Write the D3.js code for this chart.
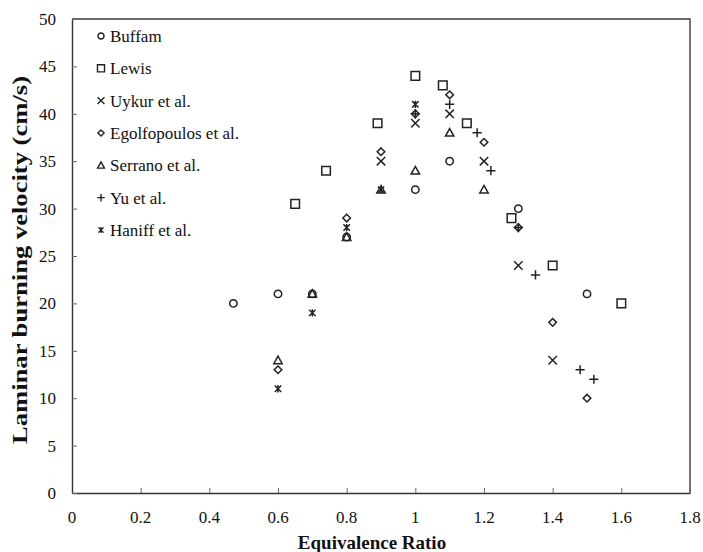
<!DOCTYPE html>
<html>
<head>
<meta charset="utf-8">
<script src="https://cdn.jsdelivr.net/npm/d3@7"></script>
<style>
  html, body { margin: 0; padding: 0; background: #fff; }
  svg { display: block; }
</style>
</head>
<body>
<svg id="chart" width="703" height="552"></svg>
<script>
// Laminar burning velocity (cm/s) against equivalence ratio, per source
const seriesNames = ["Buffam", "Lewis", "Uykur et al.", "Egolfopoulos et al.",
                     "Serrano et al.", "Yu et al.", "Haniff et al."];

const buffamPhi = [0.47, 0.6, 0.7, 0.8, 1.0, 1.1, 1.3, 1.5];
const buffamSu  = [20, 21, 21, 27, 32, 35, 30, 21];

const lewisPhi = [0.65, 0.74, 0.89, 1.0, 1.08, 1.15, 1.28, 1.4, 1.6];
const lewisSu  = [30.5, 34, 39, 44, 43, 39, 29, 24, 20];

const uykurPhi = [0.9, 1.0, 1.1, 1.2, 1.3, 1.4];
const uykurSu  = [35, 39, 40, 35, 24, 14];

const egolfPhi = [0.6, 0.8, 0.9, 1.0, 1.1, 1.2, 1.3, 1.4, 1.5];
const egolfSu  = [13, 29, 36, 40, 42, 37, 28, 18, 10];

const serranoPhi = [0.6, 0.7, 0.8, 0.9, 1.0, 1.1, 1.2];
const serranoSu  = [14, 21, 27, 32, 34, 38, 32];

const yuPhi = [1.0, 1.1, 1.18, 1.22, 1.3, 1.35, 1.48, 1.52];
const yuSu  = [40, 41, 38, 34, 28, 23, 13, 12];

const haniffPhi = [0.6, 0.7, 0.8, 0.9, 1.0];
const haniffSu  = [11, 19, 28, 32, 41];

const xTicks = [0, 0.2, 0.4, 0.6, 0.8, 1, 1.2, 1.4, 1.6, 1.8];
const yTicks = [0, 5, 10, 15, 20, 25, 30, 35, 40, 45, 50];

const serif = "Liberation Serif";

// marker shapes, drawn as open outlines
const markerPaths = {
  circle: r => `M${r},0A${r},${r} 0 1,1 ${-r},0A${r},${r} 0 1,1 ${r},0Z`,
  square: r => `M${-r},${-r}H${r}V${r}H${-r}Z`,
  cross: r => `M${-r},${-r}L${r},${r}M${-r},${r}L${r},${-r}`,
  diamond: r => `M0,${-r}L${r},0L0,${r}L${-r},0Z`,
  triangle: r => `M0,${-r}L${r},${r * 0.8}L${-r},${r * 0.8}Z`,
  plus: r => `M${-r},0H${r}M0,${-r}V${r}`,
  star: r => `M${-r},${-r}L${r},${r}M${-r},${r}L${r},${-r}M0,${-r * 1.15}V${r * 1.15}`
};

const series = [
  { name: seriesNames[0], phi: buffamPhi,  su: buffamSu,  shape: "circle",   r: 3.7 },
  { name: seriesNames[1], phi: lewisPhi,   su: lewisSu,   shape: "square",   r: 4.3 },
  { name: seriesNames[2], phi: uykurPhi,   su: uykurSu,   shape: "cross",    r: 4.2 },
  { name: seriesNames[3], phi: egolfPhi,   su: egolfSu,   shape: "diamond",  r: 3.8 },
  { name: seriesNames[4], phi: serranoPhi, su: serranoSu, shape: "triangle", r: 4.2 },
  { name: seriesNames[5], phi: yuPhi,      su: yuSu,      shape: "plus",     r: 4.6 },
  { name: seriesNames[6], phi: haniffPhi,  su: haniffSu,  shape: "star",     r: 3.2 }
];

const svg = d3.select("#chart");
const plot = { left: 72, right: 690, top: 19, bottom: 493 };

const x = d3.scaleLinear().domain([0, 1.8]).range([plot.left, plot.right]);
const y = d3.scaleLinear().domain([0, 50]).range([plot.bottom, plot.top]);

const ink = "#222";

// frame: top and right edges of the plot box
svg.append("path")
  .attr("d", `M${plot.left},${plot.top}H${plot.right}V${plot.bottom}`)
  .attr("fill", "none").attr("stroke", "#3a3a3a").attr("stroke-width", 1.4);

// axes with inward ticks; labels are drawn separately below
svg.append("g")
  .attr("class", "x-axis")
  .attr("transform", `translate(0,${plot.bottom})`)
  .call(d3.axisBottom(x).tickValues(xTicks).tickSizeInner(-5).tickSizeOuter(0).tickFormat(""));

svg.append("g")
  .attr("class", "y-axis")
  .attr("transform", `translate(${plot.left},0)`)
  .call(d3.axisLeft(y).tickValues(yTicks).tickSizeInner(-5).tickSizeOuter(0).tickFormat(""));

svg.selectAll(".x-axis .domain, .y-axis .domain").attr("stroke", "#333").attr("stroke-width", 1.4);
svg.selectAll(".x-axis .tick line, .y-axis .tick line").attr("stroke", "#666").attr("stroke-width", 1);

// tick labels
const fmt = d3.format("~g");
svg.append("g").selectAll("text")
  .data(xTicks)
  .join("text")
  .attr("x", d => x(d)).attr("y", plot.bottom + 30)
  .attr("text-anchor", "middle")
  .attr("font-family", serif).attr("font-size", 17).attr("fill", "#111")
  .text(d => fmt(d));

svg.append("g").selectAll("text")
  .data(yTicks)
  .join("text")
  .attr("x", plot.left - 16).attr("y", d => y(d)).attr("dy", "0.35em")
  .attr("text-anchor", "end")
  .attr("font-family", serif).attr("font-size", 17).attr("fill", "#111")
  .text(d => d);

// axis titles
svg.append("text")
  .attr("x", 372).attr("y", 549)
  .attr("text-anchor", "middle")
  .attr("font-family", serif).attr("font-size", 19).attr("font-weight", "bold")
  .attr("fill", "#111")
  .text("Equivalence Ratio");

svg.append("text")
  .attr("transform", `translate(27,260) rotate(-90)`)
  .attr("text-anchor", "middle")
  .attr("font-family", serif).attr("font-size", 20).attr("font-weight", "bold")
  .attr("textLength", 368).attr("lengthAdjust", "spacingAndGlyphs")
  .attr("fill", "#111")
  .text("Laminar burning velocity (cm/s)");

// data markers
const marks = svg.append("g");
series.forEach(s => {
  marks.append("g").selectAll("path")
    .data(s.phi.map((p, i) => [p, s.su[i]]))
    .join("path")
    .attr("transform", d => `translate(${x(d[0])},${y(d[1])})`)
    .attr("d", markerPaths[s.shape](s.r))
    .attr("fill", "none")
    .attr("stroke", ink)
    .attr("stroke-width", 1.5);
});

// legend in the upper-left corner of the plot
const legend = svg.append("g");
const legendRow = d3.scalePoint().domain(seriesNames).range([36, 230]);
series.forEach(s => {
  const row = legend.append("g")
    .attr("transform", `translate(101,${legendRow(s.name)})`);
  row.append("path")
    .attr("d", markerPaths[s.shape](s.r * 0.82))
    .attr("fill", "none").attr("stroke", ink).attr("stroke-width", 1.4);
  row.append("text")
    .attr("x", 9).attr("dy", "0.35em")
    .attr("font-family", serif).attr("font-size", 17).attr("fill", "#111")
    .text(s.name);
});
</script>
</body>
</html>
